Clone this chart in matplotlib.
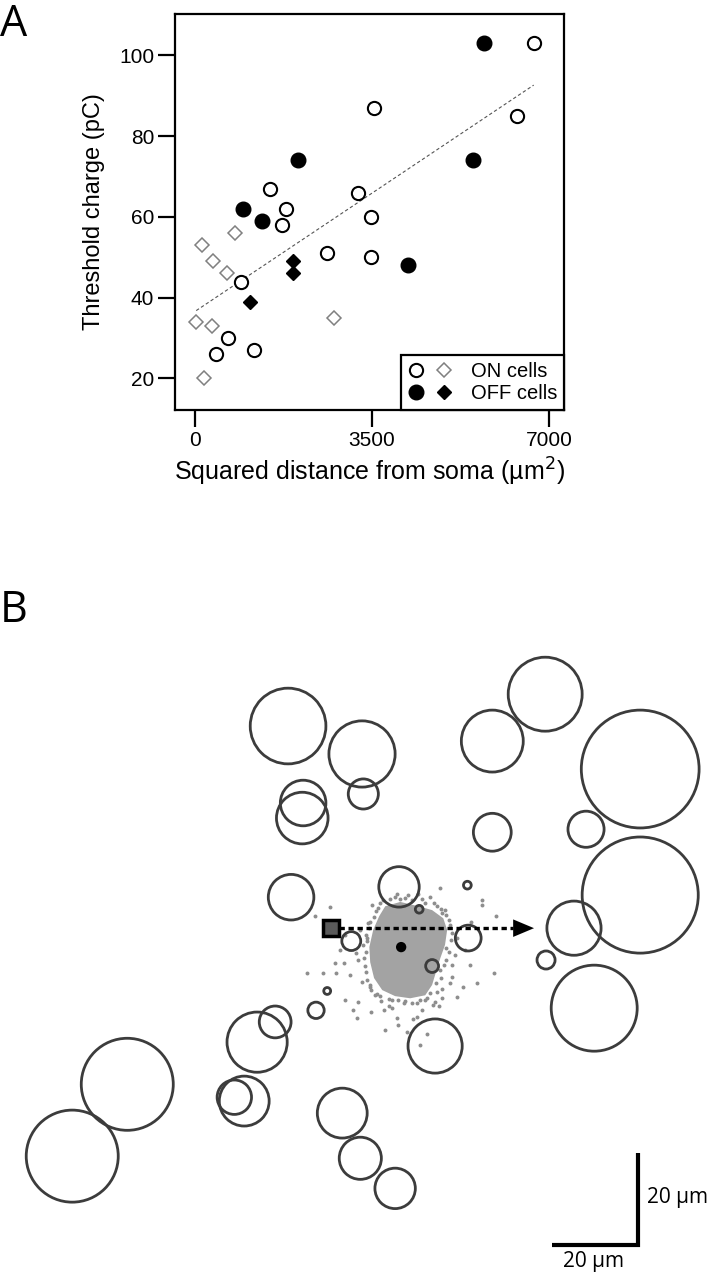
import matplotlib
matplotlib.use('Agg')
import matplotlib.pyplot as plt
from matplotlib.patches import Circle, Rectangle, Polygon
from matplotlib.legend_handler import HandlerTuple

# ---------------- Panel A data ----------------
on_circ_x = [6700, 3540, 6370, 1480, 3220, 1800, 1720, 2610, 3480, 3480, 910, 650, 420, 1170]
on_circ_y = [103, 87, 85, 67, 66, 62, 58, 51, 60, 50, 44, 30, 26, 27]
on_diam_x = [140, 790, 360, 630, 20, 340, 180, 2750]
on_diam_y = [53, 56, 49, 46, 34, 33, 20, 35]
off_circ_x = [5710, 5500, 2040, 950, 1320, 4210]
off_circ_y = [103, 74, 74, 62, 59, 48]
off_diam_x = [1940, 1940, 1090]
off_diam_y = [49, 46, 39]
fit_x = [20, 6700]
fit_y = [36.8, 92.6]
x_ticks = [0, 3500, 7000]
y_ticks = [20, 40, 60, 80, 100]

# ---------------- Panel B data (um, soma at origin) ----------------
circ_x = [-26.3, -9.1, -8.8, -22.8, -23.0, 33.5, 21.2, 55.6, 21.2, 43.0, -25.6, -0.5, 15.4, 4.2,
          55.6, 40.2, 44.9, 33.7, -11.6, 15.6, 7.2, -17.2, -19.8, -29.3, -33.5, 7.9, -36.5, -38.8,
          -63.7, -76.5, -13.7, -9.5, -1.4]
circ_y = [51.4, 44.9, 35.6, 33.5, 30.0, 58.8, 47.9, 41.4, 26.7, 27.4, 11.6, 14.0, 14.4, 8.8,
          12.1, 4.4, -14.2, -3.0, 1.4, 2.1, -4.4, -10.2, -14.7, -17.4, -22.1, -23.0, -35.8, -34.9,
          -31.9, -48.6, -38.6, -49.1, -56.1]
circ_r = [8.8, 7.7, 3.5, 5.3, 6.0, 8.6, 7.2, 13.7, 4.4, 4.2, 5.3, 4.7, 0.9, 0.9,
          13.5, 6.3, 10.0, 2.1, 2.2, 3.0, 1.5, 0.8, 1.9, 3.7, 7.0, 6.3, 5.8, 4.0,
          10.7, 10.7, 5.8, 4.9, 4.7]

# dense core outline of the site cloud
core_x = [-3.7, -0.2, 4.0, 7.2, 9.8, 10.7, 10.2, 9.1, 8.1, 7.2, 5.6, 2.1, -1.4, -4.4, -6.3, -7.2, -7.4, -6.5, -5.1]
core_y = [9.5, 10.5, 9.5, 8.6, 6.7, 4.0, 0.5, -2.6, -5.8, -8.8, -11.2, -11.9, -11.4, -10.0, -7.2, -3.5, 0.0, 4.0, 7.2]
# individual scattered sites
site_x = [-16.5, -6.7, -0.9, 1.6, -0.2, 9.1, 18.8, 18.8, 22.1, 16.3, 9.5, 11.9, 13.0, -7.7, -7.9, -8.8,
          -20.0, -15.4, -13.3, -18.1, -15.1, -11.9, -9.1, -10.5, -7.2, -6.0, -4.7, -10.0, -11.2, -7.0,
          -2.1, 2.6, -10.2, -0.9, -21.9, 21.6, 17.7, 14.4, 11.4, 11.9, 9.5, 0.7, 5.6, 7.9, 9.5, 7.4,
          4.9, 8.8, 3.7, 2.8, -0.7, 1.4, 6.0, 13.0, 6.0, -4.9, -2.6, 2.6, 5.6, 8.4, 10.5, 11.4, 11.6,
          11.2, 10.0, 9.3, 8.4, 6.7, 3.7, -0.7, -2.8, -5.6, -7.2, -8.1, -8.6, -8.1, -7.2, -5.8, -9.5,
          -10.0, 12.6, 11.9, -2.8, -4.0, 10.2, 6.7, 4.0, -13.0, -14.2, 14.9, 16.0, -3.7, 4.4, -13.0,
          -4.2, -1.4, 0.9, 4.9, 7.7, 9.3, 11.2, 10.5, 10.5, 9.1, 8.1, 4.4, 0.9, -2.1, -4.9, -7.0,
          -7.9, -8.4, -8.1, -7.9, -7.4, -6.3, -5.3]
site_y = [9.3, 9.8, 12.3, 12.1, 11.2, 13.7, 10.9, 9.8, 7.2, 5.8, 7.9, 3.3, 2.1, 5.6, 2.1, 0.5,
          7.2, -3.7, -3.7, -6.0, -6.0, -6.5, -8.1, -1.4, -9.3, -11.2, -12.6, -12.8, -14.7, -15.1,
          -14.2, -13.0, -16.5, -16.5, -6.0, -6.0, -8.4, -9.3, -8.4, -7.0, -9.8, -13.0, -12.3, -12.8, -11.9, -13.5,
          -14.7, -13.7, -16.3, -16.7, -18.1, -19.8, -20.2, -11.6, -11.9, 10.2, 11.2, 10.9, 10.2, 9.5, 7.4, 5.1, 1.6,
          -1.2, -4.2, -7.2, -10.5, -10.7, -13.0, -12.3, -12.1, -10.9, -8.8, -5.8, -2.6, 2.8, 5.8, 8.4, 4.0,
          -3.0, -1.9, -4.2, -13.7, -14.7, 8.6, 11.6, 12.3, 2.8, -0.7, -0.7, -4.2, -19.3, -22.8, -12.3,
          10.9, 11.6, 11.4, 11.2, 10.2, 8.8, 6.3, -0.2, -3.0, -5.3, -8.4, -12.3, -12.6, -12.3, -11.4, -10.0,
          -7.7, -4.4, -1.2, 1.4, 4.4, 7.0, 9.1]
soma_xy = (0.0, 0.0)
stim_xy = (-16.3, 4.4)
arrow_end_x = 30.9
scale_len = 20

fig = plt.figure(figsize=(7.09, 12.8), dpi=100)
W, H = 709, 1280

# ---------------- Panel A ----------------
axA = fig.add_axes([175 / W, 1 - 410 / H, (564 - 175) / W, (410 - 14) / H])
afont = 'Liberation Sans'
axA.plot(fit_x, fit_y, color='#555555', lw=0.8, ls=(0, (3, 2.2)), zorder=1)
hd_on = axA.plot(on_diam_x, on_diam_y, ls='none', marker='D', ms=7.2, mfc='white', mec='#808080', mew=1.1, zorder=2)[0]
hc_on = axA.plot(on_circ_x, on_circ_y, ls='none', marker='o', ms=9.5, mfc='white', mec='black', mew=1.5, zorder=3)[0]
hd_off = axA.plot(off_diam_x, off_diam_y, ls='none', marker='D', ms=7.2, mfc='black', mec='black', mew=1.0, zorder=3)[0]
hc_off = axA.plot(off_circ_x, off_circ_y, ls='none', marker='o', ms=10.5, mfc='black', mec='black', mew=1.0, zorder=3)[0]

axA.set_xlim(-400, 7300)
axA.set_ylim(12.2, 110.2)
axA.set_xticks(x_ticks)
axA.set_yticks(y_ticks)
for s in axA.spines.values():
    s.set_linewidth(1.6)
axA.tick_params(axis='both', direction='out', length=12, width=1.6, labelsize=15, pad=3)
for lab in axA.get_xticklabels() + axA.get_yticklabels():
    lab.set_family(afont)
axA.set_ylabel('Threshold charge (pC)', fontsize=17, family=afont, labelpad=10)
axA.set_xlabel('Squared distance from soma (µm$^2$)', fontsize=18, family=afont, labelpad=4)

leg = axA.legend([(hc_on, hd_on), (hc_off, hd_off)], ['ON cells', 'OFF cells'],
                 handler_map={tuple: HandlerTuple(ndivide=None, pad=0.6)},
                 loc='lower right', borderaxespad=0, frameon=True, fancybox=False,
                 prop={'family': afont, 'size': 14.5}, handlelength=2.2, handletextpad=0.9,
                 borderpad=0.35, labelspacing=0.15)
leg.get_frame().set_edgecolor('black')
leg.get_frame().set_linewidth(1.6)
leg.get_frame().set_alpha(1)

# ---------------- Panel B ----------------
axB = fig.add_axes([0, 0, 1, 640 / H])
axB.set_xlim(-93.3, 71.6)
axB.set_ylim(-77.4, 71.4)
axB.axis('off')

axB.add_patch(Polygon(list(zip(core_x, core_y)), closed=True, facecolor='#a3a3a3', edgecolor='none', zorder=1))
axB.scatter(site_x, site_y, s=8, color='#8e8e8e', linewidths=0, zorder=1)
for cx, cy, r in zip(circ_x, circ_y, circ_r):
    axB.add_patch(Circle((cx, cy), r, facecolor='none', edgecolor='#3c3c3c', lw=2.0, zorder=2))
axB.add_patch(Circle(soma_xy, 1.2, facecolor='black', edgecolor='none', zorder=4))

sq = 3.7
axB.plot([stim_xy[0] + sq / 2, arrow_end_x - 5.0], [stim_xy[1], stim_xy[1]], color='black', lw=2.4,
         dashes=(1.6, 1.1), zorder=5, solid_capstyle='butt', dash_capstyle='butt')
axB.annotate('', xy=(arrow_end_x, stim_xy[1]), xytext=(arrow_end_x - 5.2, stim_xy[1]),
             arrowprops=dict(arrowstyle='-|>,head_length=1.0,head_width=0.42', mutation_scale=15,
                             color='black', lw=0.01, shrinkA=0, shrinkB=0), zorder=5)
axB.add_patch(Rectangle((stim_xy[0] - sq / 2, stim_xy[1] - sq / 2), sq, sq, facecolor='#5a5a5a',
                        edgecolor='black', lw=2.5, zorder=6))

# scale bars
sb_x0, sb_y0 = 35.1, -69.3
axB.plot([sb_x0, sb_x0 + scale_len, sb_x0 + scale_len], [sb_y0, sb_y0, sb_y0 + scale_len + 1.5],
         color='black', lw=3.0, solid_joinstyle='miter', solid_capstyle='butt')
bfont = ['Open Sans', 'DejaVu Sans']
axB.text(sb_x0 + scale_len + 2.0, sb_y0 + scale_len / 2 + 1.0, '20 µm', fontsize=15, family=bfont,
         ha='left', va='center')
axB.text(sb_x0 + scale_len / 2 - 0.3, sb_y0 - 1.4, '20 µm', fontsize=15, family=bfont,
         ha='center', va='top')

# panel letters
fig.text(0.0, 1 - 2 / H, 'A', fontsize=31, family=bfont, ha='left', va='top')
fig.text(0.0, 1 - 588 / H, 'B', fontsize=31, family=bfont, ha='left', va='top')

fig.savefig('out.png', dpi=100)
